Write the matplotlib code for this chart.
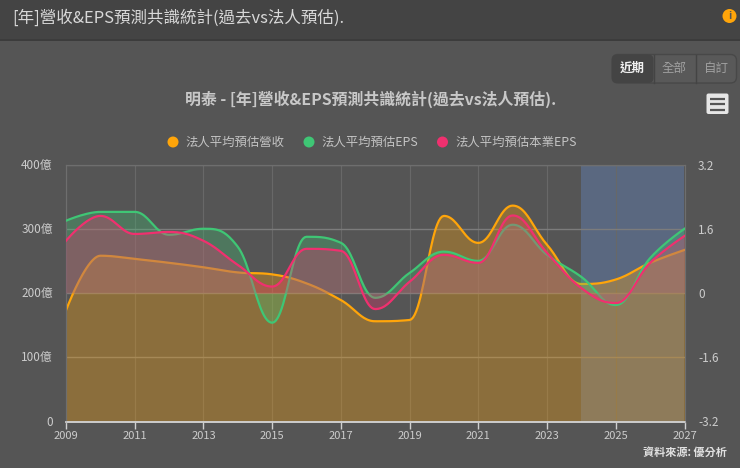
import numpy as np
import matplotlib
matplotlib.use("Agg")
import matplotlib.pyplot as plt
from matplotlib.patches import Rectangle, FancyBboxPatch, Circle

plt.rcParams['font.family'] = ['Noto Sans CJK TC', 'DejaVu Sans']

years = list(range(2009, 2028))
revenue = [173, 258, 253, 247, 240, 232, 229, 215, 189, 156, 158, 320, 278, 336, 275, 214, 221, 247, 267]
eps = [1.80, 2.02, 2.02, 1.45, 1.60, 1.15, -0.74, 1.40, 1.25, -0.12, 0.50, 1.03, 0.80, 1.70, 0.95, 0.40, -0.30, 0.87, 1.60]
core_eps = [1.30, 1.92, 1.47, 1.52, 1.30, 0.70, 0.16, 1.10, 1.05, -0.40, 0.28, 0.95, 0.75, 1.93, 1.00, 0.12, -0.25, 0.75, 1.42]
x_ticks = list(range(2009, 2028, 2))
left_ticks = [0, 100, 200, 300, 400]
left_labels = ['0', '100億', '200億', '300億', '400億']
right_ticks = [-3.2, -1.6, 0, 1.6, 3.2]
right_labels = ['-3.2', '-1.6', '0', '1.6', '3.2']
names = ['法人平均預估營收', '法人平均預估EPS', '法人平均預估本業EPS']
colors = ['#ffa50a', '#3fc675', '#f0306f']
band = (2024, 2027)
header = '[年]營收&EPS預測共識統計(過去vs法人預估).'
title = '明泰 - [年]營收&EPS預測共識統計(過去vs法人預估).'
source = '資料來源: 優分析'
buttons = ['近期', '全部', '自訂']


def spline(xs, ys, n=24):
    """Highcharts-style spline through the yearly values."""
    xs = np.asarray(xs, float)
    ys = np.asarray(ys, float)
    s = 1.5
    k = len(xs)
    lx, ly, rx, ry = xs.copy(), ys.copy(), xs.copy(), ys.copy()
    for i in range(1, k - 1):
        lx[i] = (s * xs[i] + xs[i - 1]) / (s + 1)
        ly[i] = (s * ys[i] + ys[i - 1]) / (s + 1)
        rx[i] = (s * xs[i] + xs[i + 1]) / (s + 1)
        ry[i] = (s * ys[i] + ys[i + 1]) / (s + 1)
        c = (ry[i] - ly[i]) * (rx[i] - xs[i]) / (rx[i] - lx[i]) + ys[i] - ry[i]
        ly[i] += c
        ry[i] += c
        if ly[i] > max(ys[i - 1], ys[i]):
            ly[i] = max(ys[i - 1], ys[i])
            ry[i] = 2 * ys[i] - ly[i]
        elif ly[i] < min(ys[i - 1], ys[i]):
            ly[i] = min(ys[i - 1], ys[i])
            ry[i] = 2 * ys[i] - ly[i]
        if ry[i] > max(ys[i], ys[i + 1]):
            ry[i] = max(ys[i], ys[i + 1])
            ly[i] = 2 * ys[i] - ry[i]
        elif ry[i] < min(ys[i], ys[i + 1]):
            ry[i] = min(ys[i], ys[i + 1])
            ly[i] = 2 * ys[i] - ry[i]
    ox, oy = [], []
    t = np.linspace(0, 1, n)[:, None]
    for i in range(k - 1):
        p0 = np.array([xs[i], ys[i]])
        p1 = np.array([rx[i], ry[i]])
        p2 = np.array([lx[i + 1], ly[i + 1]])
        p3 = np.array([xs[i + 1], ys[i + 1]])
        b = (1 - t) ** 3 * p0 + 3 * (1 - t) ** 2 * t * p1 + 3 * (1 - t) * t ** 2 * p2 + t ** 3 * p3
        ox.extend(b[:, 0])
        oy.extend(b[:, 1])
    return np.array(ox), np.array(oy)


W, H = 740, 468
BG = '#555555'
fig = plt.figure(figsize=(W / 100, H / 100), dpi=100, facecolor=BG)

# page furniture, in pixel coordinates
page = fig.add_axes([0, 0, 1, 1], zorder=0)
page.set_xlim(0, W)
page.set_ylim(H, 0)
page.axis('off')
page.add_patch(Rectangle((0, 0), W, 40, fc='#444444', ec='none'))
page.add_patch(Rectangle((0, 39), W, 1.5, fc='#3c3c3c', ec='none'))
page.text(12, 18, header, color='#d8d8d8', fontsize=11.9, va='center', ha='left')
page.add_patch(Circle((729.5, 16), 7, fc='#ffa50a', ec='none'))
page.text(729.5, 16, 'i', color='#555555', fontsize=7.5, fontweight='bold', va='center', ha='center')

page.add_patch(FancyBboxPatch((612, 54.5), 124.5, 28.5, boxstyle='round,pad=0,rounding_size=6',
                              fc='#595959', ec='#484848', lw=1))
page.add_patch(FancyBboxPatch((612, 54.5), 41.5, 28.5, boxstyle='round,pad=0,rounding_size=5',
                              fc='#444444', ec='none'))
page.plot([653.5, 653.5], [55, 83], color='#444444', lw=1)
page.plot([695.5, 695.5], [55, 83], color='#444444', lw=1)
for cx, lab, c, w in zip([632, 674, 716], buttons, ['#f0f0f0', '#a0a0a0', '#a0a0a0'], ['bold', 'normal', 'normal']):
    page.text(cx, 68.5, lab, color=c, fontsize=9, fontweight=w, ha='center', va='center')

page.text(371, 99, title, color='#c8c8c8', fontsize=11.45, fontweight='bold', ha='center', va='center')

page.add_patch(FancyBboxPatch((706.5, 93.5), 22, 20.5, boxstyle='round,pad=0,rounding_size=2',
                              fc='#e6e6e6', ec='none'))
for y in (98.5, 104, 109.5):
    page.plot([710, 725], [y, y], color='#555555', lw=1.6, solid_capstyle='butt')

# legend
for cx, tx, name, c in zip([173, 309, 442.5], [185, 321, 455], names, colors):
    page.add_patch(Circle((cx, 142), 5.5, fc=c, ec='none'))
    page.text(tx, 142.5, name, color='#c4c4c4', fontsize=8.9, ha='left', va='center')

page.text(727, 452, source, color='#e0e0e0', fontsize=8, fontweight='bold', ha='right', va='center')

# plot
L, R, T, B = 66, 684.5, 164.5, 421.5
rect = [L / W, 1 - B / H, (R - L) / W, (B - T) / H]
ax = fig.add_axes(rect, zorder=1)
ax.patch.set_alpha(0)
ax.set_xlim(years[0], years[-1])
ax.set_ylim(0, 400)
ax2 = ax.twinx()
ax2.set_zorder(2)
ax2.patch.set_alpha(0)
ax2.set_ylim(-3.2, 3.2)

ax.axvspan(band[0], band[1], color='#5a6880', lw=0, zorder=0)
ax.set_xticks(x_ticks)
ax.set_yticks(left_ticks)
ax.set_yticklabels(left_labels)
ax2.set_yticks(right_ticks)
ax2.set_yticklabels(right_labels)
ax.grid(True, axis='x', color='#686868', lw=0.8, zorder=1)
ax.grid(True, axis='y', color='#7c7c7c', lw=1, zorder=1)
ax.set_axisbelow(True)

for a in (ax, ax2):
    for side in ('top', 'left', 'right'):
        a.spines[side].set_color('#6e6e6e')
        a.spines[side].set_linewidth(0.8)
    a.spines['bottom'].set_color('#d0d0d0')
    a.spines['bottom'].set_linewidth(1.1)
ax.tick_params(axis='x', colors='#cccccc', labelsize=8, length=5, width=1, color='#d0d0d0', pad=2)
ax.tick_params(axis='y', length=0, labelcolor='#cccccc', labelsize=8.5, pad=9.6)
ax2.tick_params(axis='y', length=0, labelcolor='#cccccc', labelsize=8.5, pad=9.7)
for lab in ax2.get_xticklabels():
    lab.set_visible(False)

xr, yr = spline(years, revenue)
ax.fill_between(xr, 0, yr, color=colors[0], alpha=0.32, lw=0, zorder=2)
ax.plot(xr, yr, color=colors[0], lw=1.6, zorder=3)
for ser, c, z in ((eps, colors[1], 2), (core_eps, colors[2], 4)):
    xs, ys = spline(years, ser)
    ax2.fill_between(xs, 0, ys, color=c, alpha=0.3, lw=0, zorder=z)
    ax2.plot(xs, ys, color=c, lw=1.6, zorder=z + 1)

fig.savefig('out.png', dpi=100, facecolor=fig.get_facecolor())
